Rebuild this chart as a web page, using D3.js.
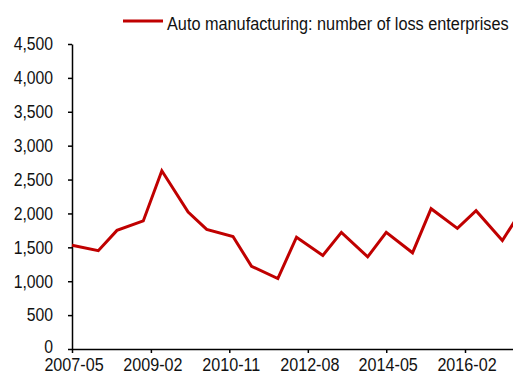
<!DOCTYPE html>
<html>
<head>
<meta charset="utf-8">
<script src="https://cdn.jsdelivr.net/npm/d3@7"></script>
<style>
  html, body { margin: 0; padding: 0; background: #fff; }
  svg { display: block; }
  text { font-family: "Liberation Sans", Arial, sans-serif; fill: #111; }
</style>
</head>
<body>
<svg id="chart" width="513" height="374"></svg>
<script>
// ---- data ----
const dates = ["2007-05","2007-12","2008-05","2008-12","2009-05","2009-12","2010-05","2010-12",
               "2011-05","2011-12","2012-05","2012-12","2013-05","2013-12","2014-05","2014-12",
               "2015-05","2015-12","2016-05","2016-12","2017-05"];
const lossEnterprises = [1530,1450,1750,1890,2630,2020,1765,1660,
                         1220,1040,1650,1380,1720,1360,1720,1420,
                         2070,1780,2040,1600,2030];
const xTickLabels = ["2007-05","2009-02","2010-11","2012-08","2014-05","2016-02"];
const yTickValues = [0,500,1000,1500,2000,2500,3000,3500,4000,4500];
const seriesName = "Auto manufacturing: number of loss enterprises";

// ---- layout ----
const W = 513, H = 374;
const mLeft = 72, mBottom = 349, mTop = 44;
const parse = d3.timeParse("%Y-%m");
const fmt = d3.format(",");

const svg = d3.select("#chart");

const xBase = d3.scaleTime()
  .domain([parse(xTickLabels[0]), parse(xTickLabels[xTickLabels.length - 1])])
  .range([mLeft, 465]);
const x = d3.scaleTime()
  .domain([parse(xTickLabels[0]), xBase.invert(W)])
  .range([mLeft, W]);
const y = d3.scaleLinear().domain([0, 4500]).range([mBottom, mTop]);

// y axis
const yAxis = svg.append("g")
  .attr("transform", `translate(${mLeft},0)`)
  .call(d3.axisLeft(y).tickValues(yTickValues).tickSize(4).tickSizeOuter(0).tickFormat(""));
yAxis.selectAll("path, line").attr("stroke", "#000").attr("stroke-width", 1.5);

// x axis
const xAxis = svg.append("g")
  .attr("transform", `translate(0,${mBottom})`)
  .call(d3.axisBottom(x).tickValues(xTickLabels.map(parse)).tickSize(4).tickSizeOuter(0).tickFormat(""));
xAxis.selectAll("path, line").attr("stroke", "#000").attr("stroke-width", 1.5);

// y labels (slightly condensed)
const ySx = 0.9, yFs = 17.5;
svg.append("g").selectAll("g")
  .data(yTickValues)
  .join("g")
  .attr("transform", d => `translate(53,${y(d) + yFs * 0.36 - (d === 0 ? 2 : 0)}) scale(${ySx},1)`)
  .append("text")
  .attr("text-anchor", "end")
  .style("font-size", yFs + "px")
  .text(d => fmt(d));

// x labels
const xSx = 0.85, xFs = 19;
svg.append("g").selectAll("g")
  .data(xTickLabels)
  .join("g")
  .attr("transform", d => `translate(${x(parse(d)) + 2},371) scale(${xSx},1)`)
  .append("text")
  .attr("text-anchor", "middle")
  .style("font-size", xFs + "px")
  .text(d => d);

// line
const data = dates.map((d, i) => ({ date: parse(d), value: lossEnterprises[i] }));
svg.append("path")
  .datum(data)
  .attr("fill", "none")
  .attr("stroke", "#c00000")
  .attr("stroke-width", 3)
  .attr("stroke-linejoin", "miter")
  .attr("d", d3.line().x(d => x(d.date)).y(d => y(d.value)));

// legend
const legend = svg.append("g");
legend.append("line")
  .attr("x1", 123).attr("x2", 163).attr("y1", 21).attr("y2", 21)
  .attr("stroke", "#c00000").attr("stroke-width", 3);
legend.append("g")
  .attr("transform", "translate(167,30) scale(0.88,1)")
  .append("text")
  .style("font-size", "18.5px")
  .text(seriesName);
</script>
</body>
</html>
